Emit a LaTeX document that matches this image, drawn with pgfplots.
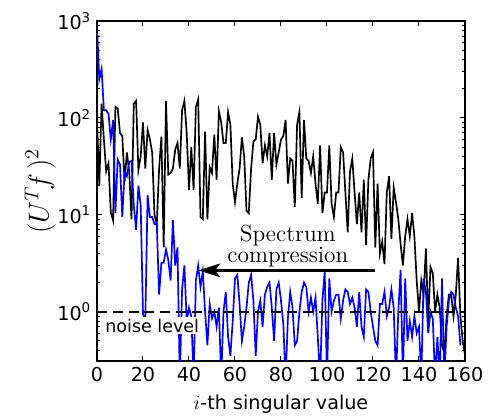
\documentclass[border=0pt]{standalone}
\usepackage{pgfplots}
\pgfplotsset{compat=1.18}
\usepackage{fontspec}
\setsansfont{DejaVu Sans}
\usetikzlibrary{arrows.meta}

\begin{document}
\begin{tikzpicture}
\begin{axis}[
  name=ax,
  scale only axis, width=220.8pt, height=204pt,
  ymode=log, xmin=0, xmax=160, ymin=0.31, ymax=1000,
  xtick={0,20,...,160},
  ytick={1,10,100,1000},
  yticklabels={10\textsuperscript{0},10\textsuperscript{1},10\textsuperscript{2},10\textsuperscript{3}},
  minor ytick={0.4,0.5,0.6,0.7,0.8,0.9,2,3,4,5,6,7,8,9,20,30,40,50,60,70,80,90,200,300,400,500,600,700,800,900},
  tick align=inside,
  major tick length=3pt, minor tick length=1.6pt,
  axis line style={line width=0.9pt},
  every tick/.style={black, line width=0.6pt},
  /pgf/number format/assume math mode=true,
  tick label style={font=\fontsize{11.5}{13}\sffamily},
  xlabel={$i$\sffamily-th singular value},
  xlabel style={font=\fontsize{11.5}{13}\sffamily, yshift=-1.5pt},
  ylabel={$(U^T\!f\,)^2$},
  ylabel style={font=\LARGE, yshift=-6pt},
]
\addplot[black, line width=1pt] coordinates {
(0,100) (1,20) (2,140) (3,60) (4,28) (5,34) (6,10.6) (7,8.8) (8,130) (9,125)
(10,70) (11,65) (12,22) (13,44) (14,28) (15,9) (16,140) (17,150) (18,29) (19,40)
(20,90) (21,30) (22,75) (23,60) (24,44) (25,10) (26,8) (27,30) (28,64) (29,4.6)
(30,150) (31,26) (32,27) (33,30) (34,47) (35,55) (36,30) (37,120) (38,150) (39,70)
(40,18) (41,50) (42,18) (43,130) (44,155) (45,9.5) (46,9) (47,72) (48,9) (49,31)
(50,27) (51,67) (52,23) (53,117) (54,90) (55,55) (56,55) (57,115) (58,85) (59,21)
(60,13.5) (61,21) (62,30) (63,63) (64,40) (65,11) (66,10.4) (67,30) (68,57) (69,60)
(70,103) (71,85) (72,34) (73,52) (74,40) (75,70) (76,23) (77,70) (78,33) (79,44)
(80,60) (81,65) (82,95) (83,21) (84,38) (85,36) (86,12) (87,85) (88,115) (89,15)
(90,95) (91,38) (92,36) (93,27) (94,40) (95,21) (96,13) (97,52) (98,10.4) (99,17)
(100,17) (101,52) (102,13) (103,9.5) (104,17) (105,17) (106,50) (107,44) (108,17) (109,6.6)
(110,28) (111,38) (112,17) (113,8) (114,17) (115,6.6) (116,23) (117,4.9) (118,23) (119,38)
(120,44) (121,4.6) (122,21) (123,4) (124,5.3) (125,3.1) (126,17) (127,25) (128,5.6) (129,19)
(130,13.5) (131,9) (132,5) (133,3) (134,6) (135,9) (136,6) (137,10.4) (138,6) (139,2.1)
(140,1.0) (141,2.1) (142,1.5) (143,4.5) (144,0.8) (145,2.9) (146,2.5) (147,1.0) (148,1.5) (149,1.1)
(150,0.45) (151,0.38) (152,0.9) (153,1.5) (154,1.5) (155,0.9) (156,1.5) (157,3.6) (158,0.9) (159,0.5)
(160,0.36)
};
\addplot[blue, line width=1pt] coordinates {
(0,900) (1,250) (2,320) (3,120) (4,120) (5,110) (6,60) (7,95) (8,10.4) (9,37)
(10,33) (11,9.5) (12,28) (13,25) (14,35) (15,36) (16,12.5) (17,7) (18,20) (19,12.5)
(20,0.95) (21,0.8) (22,16) (23,9.5) (24,9.5) (25,8) (26,8) (27,1.5) (28,3.2) (29,3.2)
(30,4.4) (31,3.4) (32,2.1) (33,8.8) (34,3) (35,4.6) (36,0.2) (37,1.7) (38,3) (39,0.8)
(40,1.1) (41,0.9) (42,0.2) (43,2.1) (44,3) (45,1.8) (46,2.6) (47,1) (48,0.45) (49,1.2)
(50,0.85) (51,1) (52,0.7) (53,1.1) (54,0.2) (55,1) (56,1.6) (57,0.55) (58,0.35) (59,0.8)
(60,2.2) (61,2.4) (62,1.2) (63,0.5) (64,0.7) (65,1.1) (66,2) (67,2.4) (68,1.3) (69,0.35)
(70,1) (71,1.3) (72,0.7) (73,1.5) (74,1.8) (75,2) (76,1.1) (77,0.5) (78,1.7) (79,2)
(80,1.3) (81,0.75) (82,0.2) (83,0.85) (84,1.6) (85,1.1) (86,0.45) (87,0.5) (88,1) (89,1.6)
(90,2) (91,1.8) (92,1) (93,1.4) (94,1) (95,1.4) (96,0.55) (97,0.2) (98,1.3) (99,2.6)
(100,0.2) (101,2.2) (102,1) (103,1.3) (104,1.5) (105,1.5) (106,0.85) (107,1.3) (108,1.7) (109,1.6)
(110,1.2) (111,1.4) (112,1.1) (113,0.7) (114,1.6) (115,0.7) (116,0.55) (117,1.7) (118,1.6) (119,1.0)
(120,0.7) (121,0.5) (122,0.45) (123,1.2) (124,1.2) (125,1.6) (126,0.9) (127,1.1) (128,1.7) (129,1.1)
(130,0.2) (131,1) (132,2.7) (133,0.2) (134,2.2) (135,0.5) (136,0.8) (137,0.55) (138,0.9) (139,0.6)
(140,0.7) (141,0.2) (142,2.2) (143,1.6) (144,0.6) (145,1) (146,0.85) (147,0.2) (148,0.55) (149,0.2)
(150,2.2) (151,0.2) (152,0.7) (153,1.3) (154,1.6) (155,1.5) (156,1.1) (157,0.9) (158,0.45)
};
\addplot[black, line width=1pt, dash pattern=on 6pt off 3.5pt] coordinates {(0,1) (160,1)};
\node[fill=white, inner sep=1pt, font=\fontsize{10.5}{12}\sffamily] at (axis cs:24,0.72) {noise level};
\draw[line width=2.2pt, -{Stealth[length=13pt, width=8pt, inset=3pt]}] (axis cs:121,2.67) -- (axis cs:44,2.67);
\node[align=center, font=\fontsize{14}{13}\selectfont] at (axis cs:83,4.75) {Spectrum\\compression};
\end{axis}
\path ([xshift=-58.2pt, yshift=-30.6pt]ax.south west) rectangle ([xshift=21.6pt, yshift=12.6pt]ax.north east);
\end{tikzpicture}
\end{document}
